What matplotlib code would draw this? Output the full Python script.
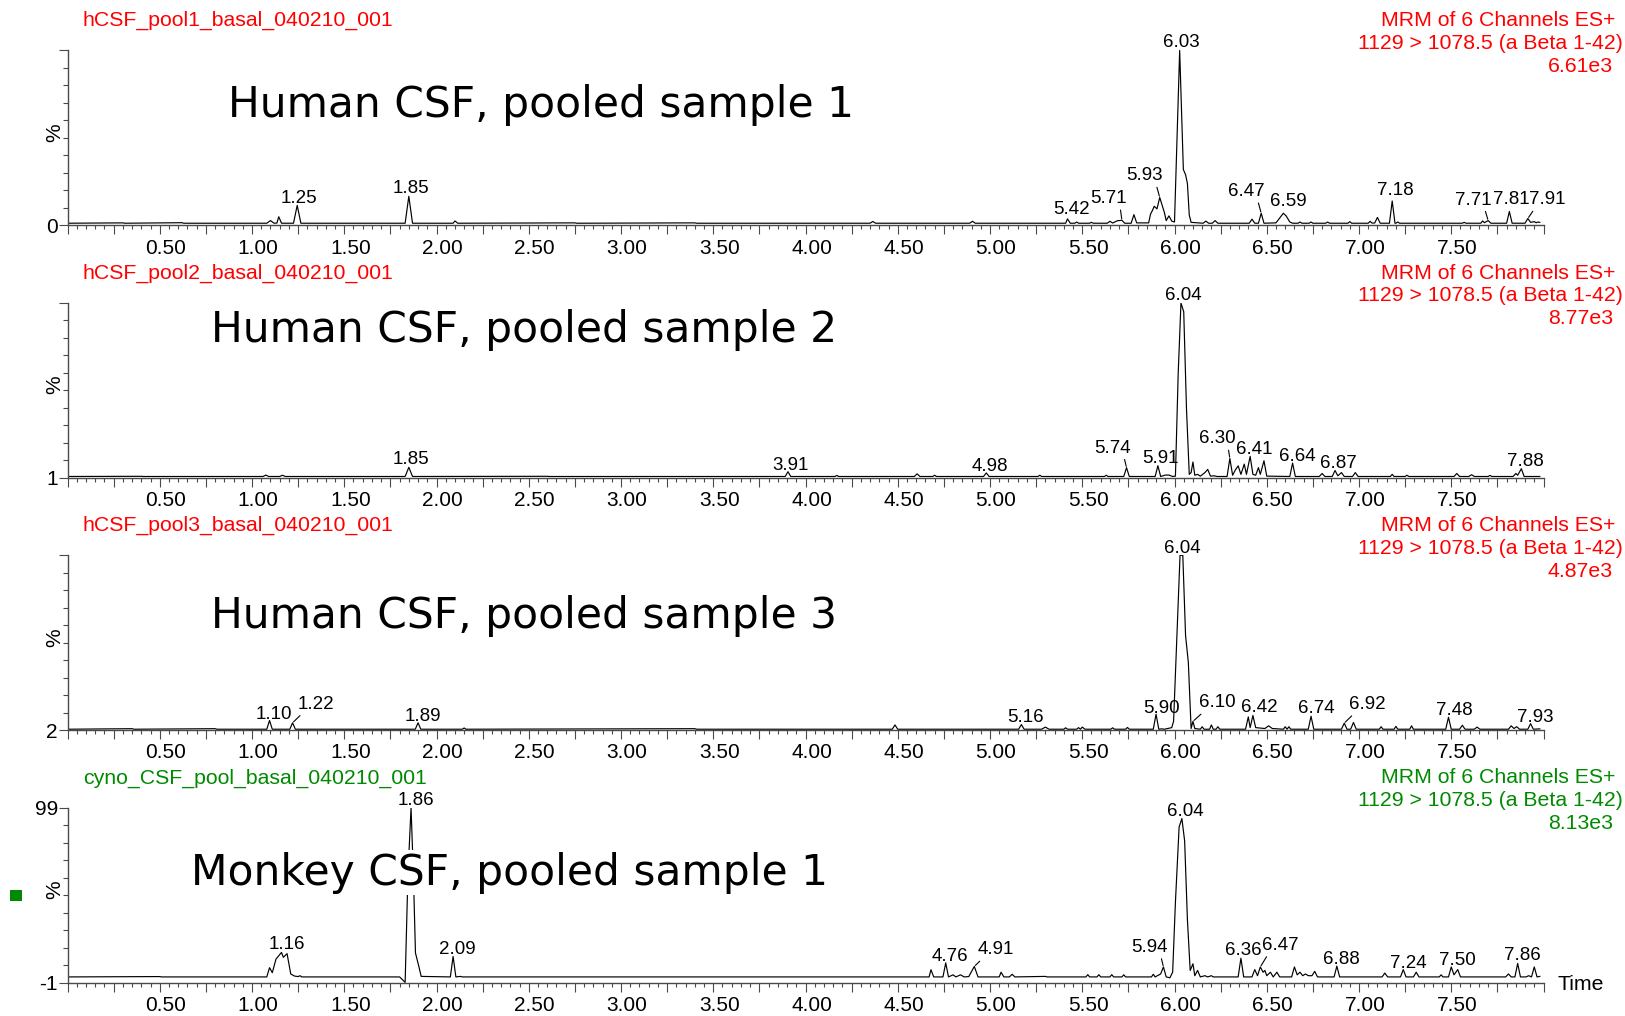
import numpy as np
import matplotlib
matplotlib.use('Agg')
import matplotlib.pyplot as plt
from matplotlib.ticker import MultipleLocator, FuncFormatter, FixedLocator
from matplotlib.patches import Rectangle
import matplotlib.transforms as mtransforms

# chromatogram vertices: (retention time / min, intensity / %)
trace1 = [(0.00, 1.3), (0.30, 1.5), (0.31, 1.3), (0.62, 1.6), (0.63, 1.3), (1.08, 1.3), (1.10, 2.8),
          (1.12, 1.3), (1.135, 1.4), (1.145, 5.0), (1.16, 1.3), (1.225, 1.3), (1.245, 11.5), (1.265, 1.3),
          (1.83, 1.3), (1.85, 16.7), (1.87, 1.3), (2.09, 1.3), (2.10, 2.6), (2.115, 1.3), (2.75, 1.5),
          (2.76, 1.3), (3.40, 1.5), (3.41, 1.3), (4.35, 1.3), (4.365, 2.3), (4.38, 1.3), (4.89, 1.3),
          (4.905, 2.4), (4.92, 1.3), (5.41, 1.3), (5.42, 3.8), (5.435, 1.3), (5.46, 1.3), (5.47, 2.0),
          (5.48, 1.3), (5.54, 1.3), (5.55, 1.8), (5.56, 1.3), (5.635, 1.3), (5.65, 2.4), (5.665, 1.4),
          (5.69, 2.7), (5.715, 3.0), (5.73, 1.3), (5.765, 1.3), (5.78, 6.2), (5.795, 1.5), (5.86, 1.5),
          (5.87, 6.5), (5.88, 8.5), (5.89, 11.0), (5.905, 9.5), (5.92, 16.0), (5.935, 11.0), (5.945, 7.5),
          (5.955, 2.8), (5.97, 5.5), (5.985, 2.5), (6.00, 2.0), (6.015, 55.0), (6.028, 100.0), (6.04, 60.0),
          (6.048, 32.0), (6.06, 29.0), (6.07, 24.0), (6.08, 6.0), (6.09, 1.8), (6.155, 1.3), (6.17, 2.5),
          (6.185, 1.3), (6.205, 1.3), (6.22, 2.8), (6.235, 1.3), (6.405, 1.3), (6.42, 3.6), (6.435, 1.3),
          (6.455, 1.3), (6.47, 7.0), (6.485, 1.3), (6.55, 1.5), (6.575, 5.0), (6.59, 7.0), (6.605, 5.5),
          (6.625, 2.0), (6.64, 1.3), (6.67, 1.3), (6.68, 2.0), (6.69, 1.3), (6.73, 1.3), (6.74, 2.0),
          (6.75, 1.3), (6.82, 1.3), (6.83, 2.0), (6.84, 1.3), (6.94, 1.3), (6.95, 2.2), (6.96, 1.3),
          (7.05, 1.3), (7.06, 2.4), (7.07, 1.4), (7.085, 1.4), (7.10, 4.6), (7.115, 1.3), (7.165, 1.3),
          (7.18, 14.0), (7.195, 1.3), (7.20, 1.3), (7.21, 2.0), (7.22, 1.3), (7.56, 1.3), (7.57, 1.8),
          (7.58, 1.3), (7.66, 1.3), (7.67, 2.6), (7.68, 1.6), (7.70, 2.8), (7.715, 1.3), (7.80, 1.3),
          (7.815, 8.0), (7.83, 1.3), (7.90, 1.3), (7.915, 4.0), (7.93, 1.8), (7.95, 2.2), (7.96, 1.6),
          (7.97, 2.0), (7.98, 1.8)]

trace2 = [(0.00, 1.8), (0.40, 1.9), (0.41, 1.8), (1.06, 1.8), (1.075, 2.6), (1.09, 1.8), (1.15, 1.8),
          (1.165, 2.5), (1.18, 1.8), (1.83, 1.8), (1.85, 7.0), (1.87, 1.8), (2.60, 1.9), (2.61, 1.8),
          (3.89, 1.8), (3.905, 4.5), (3.92, 1.8), (4.16, 1.8), (4.17, 2.4), (4.18, 1.8), (4.59, 1.8),
          (4.605, 3.3), (4.62, 1.8), (4.69, 1.8), (4.70, 2.5), (4.71, 1.8), (4.965, 1.8), (4.98, 3.8),
          (4.995, 1.8), (5.26, 1.8), (5.27, 2.5), (5.28, 1.8), (5.62, 1.8), (5.63, 2.5), (5.64, 1.8),
          (5.725, 1.8), (5.74, 6.8), (5.755, 1.8), (5.895, 1.8), (5.91, 7.9), (5.925, 1.8), (5.95, 2.6),
          (5.97, 2.6), (5.99, 1.8), (6.005, 2.0), (6.02, 60.0), (6.035, 100.0), (6.05, 95.0), (6.065, 40.0),
          (6.08, 3.0), (6.09, 4.0), (6.10, 10.0), (6.11, 2.5), (6.125, 3.0), (6.14, 2.0), (6.165, 4.0),
          (6.18, 5.8), (6.195, 2.0), (6.215, 2.2), (6.23, 1.8), (6.285, 1.8), (6.30, 12.0), (6.315, 2.5),
          (6.33, 5.5), (6.345, 7.8), (6.36, 3.0), (6.378, 8.8), (6.39, 3.0), (6.41, 13.2), (6.425, 3.0),
          (6.44, 2.5), (6.455, 6.8), (6.465, 3.0), (6.485, 10.7), (6.50, 2.0), (6.625, 1.8), (6.64, 9.4),
          (6.655, 1.8), (6.785, 1.8), (6.80, 3.5), (6.815, 1.8), (6.855, 1.8), (6.87, 5.2), (6.885, 2.2),
          (6.905, 4.0), (6.92, 1.8), (6.965, 1.8), (6.98, 4.0), (6.995, 1.8), (7.17, 1.8), (7.18, 3.0),
          (7.19, 1.8), (7.25, 1.8), (7.26, 2.5), (7.27, 1.8), (7.515, 1.8), (7.53, 3.5), (7.545, 1.8),
          (7.595, 1.8), (7.61, 2.8), (7.625, 1.8), (7.70, 1.8), (7.71, 2.4), (7.72, 1.8), (7.835, 1.8),
          (7.85, 3.5), (7.86, 2.5), (7.88, 6.2), (7.895, 1.8), (7.98, 1.8)]

trace3 = [(0.00, 2.6), (0.35, 2.9), (0.36, 2.6), (0.80, 2.9), (0.81, 2.6), (1.08, 2.6), (1.095, 7.5),
          (1.11, 2.6), (1.205, 2.6), (1.22, 6.2), (1.235, 2.6), (1.885, 2.6), (1.90, 6.2), (1.915, 2.6),
          (2.14, 2.6), (2.15, 3.3), (2.16, 2.6), (3.40, 2.9), (3.41, 2.6), (4.47, 2.6), (4.485, 5.0),
          (4.50, 2.6), (5.155, 2.6), (5.17, 5.2), (5.185, 2.6), (5.28, 2.6), (5.30, 3.8), (5.32, 2.6),
          (5.40, 2.6), (5.41, 3.4), (5.42, 2.6), (5.47, 2.6), (5.48, 3.5), (5.49, 2.6), (5.50, 3.8),
          (5.515, 2.6), (5.655, 2.6), (5.665, 3.4), (5.675, 2.6), (5.735, 2.6), (5.745, 3.6), (5.755, 2.6),
          (5.885, 2.6), (5.90, 11.0), (5.915, 2.6), (5.93, 2.8), (5.945, 2.6), (5.985, 3.5), (5.995, 7.0),
          (6.015, 60.0), (6.03, 100.0), (6.045, 100.0), (6.06, 55.0), (6.075, 40.0), (6.09, 3.0),
          (6.10, 7.0), (6.11, 3.0), (6.14, 2.6), (6.15, 4.0), (6.16, 2.6), (6.19, 2.6), (6.20, 5.0),
          (6.21, 2.6), (6.225, 2.6), (6.235, 4.0), (6.245, 2.6), (6.385, 2.6), (6.40, 9.5), (6.41, 3.5),
          (6.425, 10.3), (6.44, 3.5), (6.49, 3.0), (6.51, 4.5), (6.53, 3.0), (6.59, 2.6), (6.60, 4.0),
          (6.61, 2.6), (6.62, 4.0), (6.63, 2.6), (6.725, 2.6), (6.74, 9.9), (6.755, 2.6), (6.905, 2.6),
          (6.92, 6.0), (6.935, 2.6), (6.955, 2.6), (6.97, 6.4), (6.985, 2.6), (7.11, 2.6), (7.12, 4.0),
          (7.13, 2.6), (7.19, 2.6), (7.20, 4.2), (7.21, 2.6), (7.275, 2.6), (7.285, 4.5), (7.295, 2.6),
          (7.47, 2.6), (7.485, 9.3), (7.50, 2.6), (7.545, 2.6), (7.56, 4.8), (7.575, 2.6), (7.625, 2.6),
          (7.64, 3.8), (7.655, 2.6), (7.81, 2.6), (7.825, 4.5), (7.84, 3.0), (7.855, 4.0), (7.87, 2.6),
          (7.915, 2.6), (7.93, 5.7), (7.945, 2.6), (7.98, 2.8)]

trace4 = [(0.00, 2.3), (0.50, 2.5), (0.51, 2.3), (1.08, 2.3), (1.095, 7.6), (1.11, 4.7), (1.13, 12.5),
          (1.16, 16.3), (1.17, 13.5), (1.19, 15.6), (1.21, 4.0), (1.23, 2.8), (1.25, 2.5), (1.26, 3.0),
          (1.27, 2.3), (1.80, 2.3), (1.83, -0.8), (1.845, 60.0), (1.862, 99.0), (1.875, 60.0), (1.886, 16.0),
          (1.905, 8.0), (1.917, 2.6), (2.075, 2.3), (2.09, 14.0), (2.105, 2.3), (2.13, 2.6), (2.14, 2.3),
          (4.67, 2.3), (4.68, 6.4), (4.695, 2.3), (4.745, 2.3), (4.76, 10.3), (4.775, 2.3), (4.80, 3.5),
          (4.815, 2.3), (4.84, 3.5), (4.86, 2.3), (4.885, 2.5), (4.915, 8.3), (4.935, 2.3), (5.05, 2.3),
          (5.06, 5.0), (5.075, 2.3), (5.105, 2.3), (5.12, 3.8), (5.135, 2.3), (5.30, 2.6), (5.31, 2.3),
          (5.52, 2.3), (5.53, 3.6), (5.54, 2.3), (5.58, 2.3), (5.59, 3.6), (5.60, 2.3), (5.65, 2.3),
          (5.66, 3.6), (5.67, 2.3), (5.715, 2.3), (5.725, 3.5), (5.735, 2.3), (5.875, 2.3), (5.885, 3.8),
          (5.895, 2.3), (5.925, 4.0), (5.94, 8.0), (5.955, 2.3), (5.975, 1.8), (5.99, 5.0), (6.005, 45.0),
          (6.025, 88.0), (6.04, 92.8), (6.055, 80.0), (6.07, 35.0), (6.085, 6.0), (6.10, 9.8), (6.11, 3.0),
          (6.125, 6.0), (6.14, 2.3), (6.165, 3.0), (6.18, 2.3), (6.20, 3.0), (6.21, 2.3), (6.345, 2.3),
          (6.36, 13.0), (6.375, 2.3), (6.42, 2.3), (6.435, 6.5), (6.45, 3.0), (6.465, 8.0), (6.48, 5.0),
          (6.49, 6.0), (6.50, 3.0), (6.52, 5.0), (6.535, 2.3), (6.555, 5.0), (6.57, 2.3), (6.635, 2.3),
          (6.65, 8.0), (6.665, 3.5), (6.68, 5.0), (6.695, 3.0), (6.71, 4.0), (6.725, 3.0), (6.745, 3.0),
          (6.76, 5.5), (6.775, 2.3), (6.865, 2.3), (6.88, 8.5), (6.895, 2.3), (7.125, 2.3), (7.14, 4.5),
          (7.155, 2.3), (7.225, 2.3), (7.24, 6.5), (7.255, 2.3), (7.295, 2.3), (7.31, 5.0), (7.325, 2.3),
          (7.435, 2.3), (7.445, 3.5), (7.455, 2.3), (7.485, 2.3), (7.50, 8.0), (7.515, 3.5), (7.535, 6.5),
          (7.55, 2.3), (7.795, 2.3), (7.81, 4.0), (7.825, 2.3), (7.845, 2.3), (7.86, 10.0), (7.875, 2.3),
          (7.905, 2.3), (7.92, 3.0), (7.935, 2.3), (7.95, 8.0), (7.965, 2.3), (7.98, 2.6)]

# labelled retention times
peaks1 = [1.25, 1.85, 5.42, 5.71, 5.93, 6.03, 6.47, 6.59, 7.18, 7.71, 7.81, 7.91]
peaks2 = [1.85, 3.91, 4.98, 5.74, 5.91, 6.04, 6.30, 6.41, 6.64, 6.87, 7.88]
peaks3 = [1.10, 1.22, 1.89, 5.16, 5.90, 6.04, 6.10, 6.42, 6.74, 6.92, 7.48, 7.93]
peaks4 = [1.16, 1.86, 2.09, 4.76, 4.91, 5.94, 6.04, 6.36, 6.47, 6.88, 7.24, 7.50, 7.86]

file_names = ['hCSF_pool1_basal_040210_001', 'hCSF_pool2_basal_040210_001',
              'hCSF_pool3_basal_040210_001', 'cyno_CSF_pool_basal_040210_001']
sample_titles = ['Human CSF, pooled sample 1', 'Human CSF, pooled sample 2',
                 'Human CSF, pooled sample 3', 'Monkey CSF, pooled sample 1']
max_counts = ['6.61e3', '8.77e3', '4.87e3', '8.13e3']
y_ranges = [(0, 100), (1, 100), (2, 100), (-1, 99)]
channel_line = 'MRM of 6 Channels ES+'
transition_line = '1129 > 1078.5 (a Beta 1-42)'

traces = [trace1, trace2, trace3, trace4]
peak_lists = [peaks1, peaks2, peaks3, peaks4]

# label placement (pixels): dx, dy from the apex; big dx gets a leader line
label_offsets = [
    {1.25: (2, 2), 1.85: (2, 3), 5.42: (4, 5), 5.71: (-13, 17), 5.93: (-15, 17), 6.03: (2, 3),
     6.47: (-15, 17), 6.59: (5, 7), 7.18: (3, 6), 7.71: (-15, 16), 7.81: (2, 7), 7.91: (19, 14)},
    {1.85: (2, 3), 3.91: (3, 2), 4.98: (4, 2), 5.74: (-14, 15), 5.91: (3, 3), 6.04: (2, 3),
     6.30: (-13, 15), 6.41: (4, 2), 6.64: (5, 2), 6.87: (3, 2), 7.88: (4, 3)},
    {1.10: (4, 1), 1.22: (23, 14), 1.89: (5, 2), 5.16: (4, 3), 5.90: (5, 1), 6.04: (2, 2),
     6.10: (24, 14), 6.42: (6, 3), 6.74: (5, 3), 6.92: (23, 14), 7.48: (6, 2), 7.93: (5, 2)},
    {1.16: (5, 3), 1.86: (5, 3), 2.09: (4, 2), 4.76: (4, 2), 4.91: (21, 12), 5.94: (-14, 15),
     6.04: (3, 3), 6.36: (2, 3), 6.47: (20, 17), 6.88: (5, 2), 7.24: (5, 2), 7.50: (6, 2), 7.86: (5, 3)},
]
title_x = [228, 211, 211, 191]
title_dy = [55, 27, 61, 65]
title_colors = ['#ff0000', '#ff0000', '#ff0000', '#008a00']

W, H = 1625, 1016
PXM = 184.5  # pixels per minute
SANS = 'Liberation Sans'
AXCOL = '#4a4a4a'

fig = plt.figure(figsize=(W / 100, H / 100), dpi=100)


def fx(x):
    return x / W


def fy(y):
    return 1 - y / H


for k in range(4):
    top = 50.5 + 252.4 * k
    bot = 225.5 + 252.4 * k
    ax = fig.add_axes([fx(67.5), fy(bot), 8.0 * PXM / W, (bot - top) / H])
    t, v = zip(*traces[k])
    ax.plot(t, v, color='black', lw=0.85, zorder=2)
    lo, hi = y_ranges[k]
    ax.set_xlim(0, 8.0)
    ax.set_ylim(lo, hi)

    for s in ['top', 'right']:
        ax.spines[s].set_visible(False)
    for s in ['left', 'bottom']:
        ax.spines[s].set_color(AXCOL)
        ax.spines[s].set_linewidth(1.0)

    # x axis ticks
    ax.xaxis.set_major_locator(MultipleLocator(0.25))
    ax.xaxis.set_minor_locator(MultipleLocator(0.05))
    ax.xaxis.set_major_formatter(FuncFormatter(
        lambda val, pos: '%.2f' % val if abs(val * 2 - round(val * 2)) < 1e-6 and 0.1 < val < 7.9 else ''))
    ax.tick_params(axis='x', which='major', length=6.5, width=0.8, color=AXCOL, pad=3,
                   labelsize=15, labelcolor='black')
    ax.tick_params(axis='x', which='minor', length=3.2, width=0.8, color=AXCOL)
    shift = mtransforms.ScaledTranslation(6 / 100, 0, fig.dpi_scale_trans)
    for lab in ax.get_xticklabels():
        lab.set_fontfamily(SANS)
        lab.set_transform(lab.get_transform() + shift)

    # y axis ticks: ten divisions, only the ends labelled
    ax.yaxis.set_major_locator(FixedLocator([lo, hi]))
    ax.yaxis.set_minor_locator(FixedLocator(list(np.linspace(lo, hi, 11)[1:-1])))
    ax.set_yticklabels([str(lo), '99' if k == 3 else ''])
    ax.tick_params(axis='y', which='major', length=6.5, width=0.8, color=AXCOL, pad=0.5,
                   labelsize=15, labelcolor='black')
    ax.tick_params(axis='y', which='minor', length=3.6, width=0.8, color=AXCOL)
    for lab in ax.get_yticklabels():
        lab.set_fontfamily(SANS)

    # peak labels
    tt = np.array(t)
    vv = np.array(v)
    for rt in peak_lists[k]:
        near = np.where(np.abs(tt - rt) <= 0.012)[0]
        i = near[np.argmax(vv[near])]
        dx, dy = label_offsets[k][rt]
        arrow = None
        if abs(dx) > 10:
            arrow = dict(arrowstyle='-', color='black', lw=0.8, shrinkA=0, shrinkB=1,
                         relpos=(0.8, 0.1) if dx < 0 else (0.2, 0.1))
        ax.annotate('%.2f' % rt, xy=(tt[i], vv[i]), xytext=(dx * 0.72, dy * 0.72),
                    textcoords='offset points', ha='center', va='baseline', fontsize=13.5,
                    family=SANS, color='black', arrowprops=arrow, annotation_clip=False, zorder=4)

    # big sample title with white box over the trace
    fig.text(fx(title_x[k]), fy(top + title_dy[k]), sample_titles[k], fontsize=30.5,
             family='DejaVu Sans', ha='left', va='center', zorder=5,
             bbox=dict(facecolor='white', edgecolor='none', pad=1))

    # header texts
    col = title_colors[k]
    off = 252.4 * k
    fig.text(fx(83), fy(20.7 + off), file_names[k], color=col, fontsize=15.3, family=SANS,
             ha='left', va='center')
    fig.text(fx(1615), fy(20.7 + off), channel_line, color=col, fontsize=15.3, family=SANS,
             ha='right', va='center')
    fig.text(fx(1623), fy(43.5 + off), transition_line, color=col, fontsize=15.3, family=SANS,
             ha='right', va='center')
    fig.text(fx(1613), fy(66.3 + off), max_counts[k], color=col, fontsize=15.3, family=SANS,
             ha='right', va='center')

    # "%" axis label
    fig.text(fx(54.5), fy(top + 82), '%', rotation=90, fontsize=15, family=SANS,
             ha='center', va='center')

fig.text(fx(1557), fy(985), 'Time', fontsize=15.3, family=SANS, ha='left', va='center')
fig.patches.append(Rectangle((fx(10), fy(901)), 12 / W, 11 / H, transform=fig.transFigure,
                             facecolor='#008a00', edgecolor='none'))

fig.savefig('out.png', dpi=100)
